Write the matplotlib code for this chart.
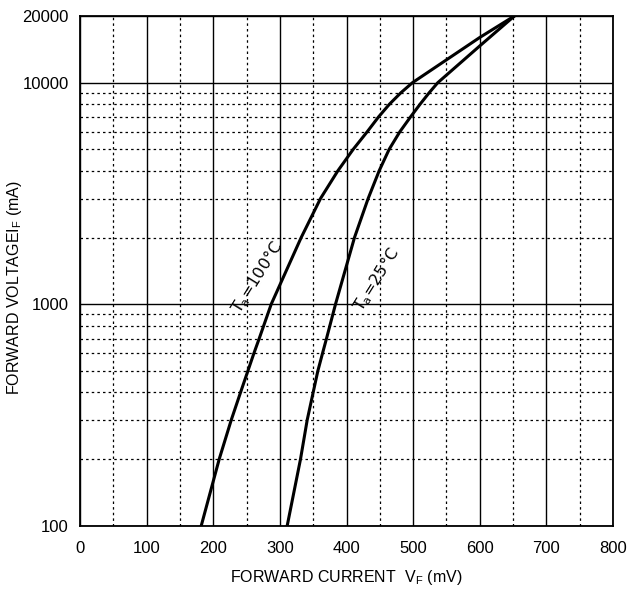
import matplotlib
matplotlib.use("Agg")
import matplotlib.pyplot as plt
from matplotlib.ticker import FixedLocator, NullFormatter

# Data
i_100 = [100, 200, 300, 400, 500, 600, 700, 1000, 2000, 3000, 4000, 5000,
         6000, 7000, 8000, 9000, 10000, 16000, 20000]
v_100 = [182, 209, 227, 241, 252, 261, 269, 287, 332, 361, 387, 410,
         431, 448, 464.5, 481.5, 499, 600, 652]

i_25 = [100, 200, 300, 400, 500, 600, 700, 1000, 2000, 3000, 4000, 5000,
        6000, 7000, 8000, 9000, 10000, 14650, 20000]
v_25 = [311, 331, 341, 350, 357, 364, 370, 383.5, 412, 432.5, 449, 464,
        480, 496, 510.5, 524, 537, 600, 652]

x_major = [0, 100, 200, 300, 400, 500, 600, 700, 800]
x_minor = [50, 150, 250, 350, 450, 550, 650, 750]
y_major = [100, 1000, 10000, 20000]
y_minor = [200, 300, 400, 500, 600, 700, 800, 900,
           2000, 3000, 4000, 5000, 6000, 7000, 8000, 9000]

plt.rcParams['font.family'] = ['Liberation Sans', 'DejaVu Sans']
plt.rcParams['mathtext.default'] = 'regular'

fig = plt.figure(figsize=(6.3, 5.92), dpi=100)
ax = fig.add_axes([80 / 630, 1 - 525.7 / 592, (613 - 80) / 630, (525.7 - 16) / 592])

ax.plot(v_100, i_100, color='black', lw=2.2, zorder=3)
ax.plot(v_25, i_25, color='black', lw=2.2, zorder=3)

ax.set_yscale('log')
ax.set_xlim(0, 800)
ax.set_ylim(100, 20000)

ax.xaxis.set_major_locator(FixedLocator(x_major))
ax.xaxis.set_minor_locator(FixedLocator(x_minor))
ax.yaxis.set_major_locator(FixedLocator(y_major))
ax.yaxis.set_minor_locator(FixedLocator(y_minor))
ax.set_xticklabels([str(v) for v in x_major])
ax.set_yticklabels([str(v) for v in y_major])
ax.yaxis.set_minor_formatter(NullFormatter())

ax.grid(which='major', color='black', lw=1.0, ls='-')
ax.grid(which='minor', color='black', lw=0.9, ls=(0, (2, 2.5)))
ax.tick_params(which='both', length=0, labelsize=12)
ax.tick_params(axis='x', pad=11)
ax.tick_params(axis='y', pad=8)

for s in ax.spines.values():
    s.set_linewidth(1.3)
    s.set_color('black')

ax.set_xlabel('FORWARD CURRENT  V$_F$ (mV)', fontsize=11.5, labelpad=9)
ax.set_ylabel('FORWARD VOLTAGEI$_F$ (mA)', fontsize=11.5)
ax.yaxis.set_label_coords(-0.106, 0.468)

ax.text(266, 1320, 'T$_a$=100°C', rotation=58, ha='center', va='center',
        fontsize=11.5, family=['DejaVu Sans'], zorder=4)
ax.text(445, 1290, 'T$_a$=25°C', rotation=58, ha='center', va='center',
        fontsize=11.5, family=['DejaVu Sans'], zorder=4)

fig.savefig('out.png', dpi=100)
